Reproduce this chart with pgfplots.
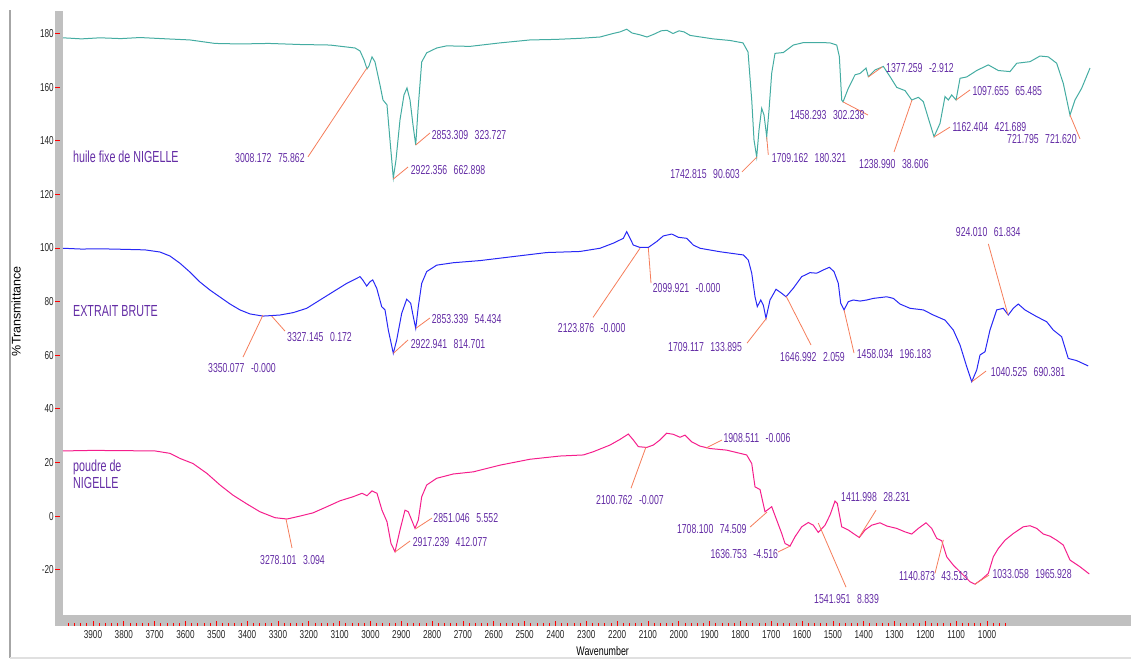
\documentclass[border=0pt]{standalone}
\usepackage{pgfplots}
\pgfplotsset{compat=1.18}
\usepackage{fontspec}
\setmainfont{Liberation Sans}
\newfontfamily\tickf{Liberation Sans}[FakeStretch=0.71]
\newfontfamily\annf{Liberation Sans}[FakeStretch=0.67]
\definecolor{teal1}{RGB}{68,172,162}
\definecolor{blue1}{RGB}{40,40,245}
\definecolor{pink1}{RGB}{245,30,140}
\definecolor{annc}{RGB}{100,45,165}
\definecolor{leadc}{RGB}{245,125,90}
\definecolor{barg}{RGB}{192,192,192}
\newcommand{\ann}[2]{#1\hspace{6.5pt}#2}
\tikzset{
  annot/.style={font=\annf\fontsize{13}{13}\selectfont, text=annc, inner sep=0pt, anchor=west},
  lead/.style={draw=leadc, line width=0.8pt},
  serlab/.style={font=\annf\fontsize{16}{17}\selectfont, text=annc, inner sep=0pt, anchor=west, align=left},
}
\begin{document}
\begin{tikzpicture}
\useasboundingbox (-55pt,-35pt) rectangle (1076pt,626pt);
\begin{axis}[
  at={(0pt,0pt)}, anchor=south west,
  scale only axis, width=1076pt, height=615pt,
  x dir=reverse, xmin=533, xmax=4023.3, ymin=-41, ymax=188.4,
  axis line style={draw=none},
  axis on top,
  tick align=inside, tick pos=left,
  major tick length=5pt, minor tick length=3pt,
  tick style={red, line width=0.8pt},
  xtick={1000,1100,...,3900},
  xticklabels={1000,1100,1200,1300,1400,1500,1600,1700,1800,1900,2000,2100,2200,2300,2400,2500,2600,2700,2800,2900,3000,3100,3200,3300,3400,3500,3600,3700,3800,3900},
  minor xtick={940,960,...,3980},
  ytick={-20,0,...,180},
  yticklabels={-20,0,20,40,60,80,100,120,140,160,180},
  xticklabel style={font=\tickf\fontsize{11.5}{12}\selectfont, text=black!85, inner sep=0pt, anchor=north, yshift=-4pt},
  yticklabel style={font=\tickf\fontsize{11.5}{12}\selectfont, text=black!85, inner sep=0pt, anchor=east, xshift=-1pt},
  xlabel={Wavenumber},
  xlabel style={font=\tickf\fontsize{12.5}{13}\selectfont, at={(axis description cs:0.509,-0.0407)}, anchor=center, inner sep=0pt},
  ylabel={\%Transmittance},
  ylabel style={font=\fontsize{12.5}{13}\selectfont, at={(axis description cs:-0.0362,0.512)}, rotate=0, anchor=center, inner sep=0pt},
]
% gray frame bars
\fill[barg] (axis cs:4023.3,-41) rectangle (axis cs:3997.3,188.4);
\fill[barg] (axis cs:4023.3,-41) rectangle (axis cs:533,-36.9);

% huile fixe de NIGELLE
\addplot[teal1, line width=1pt] coordinates {
(3997.3,178.4)(3937,178.0)(3877.3,178.4)(3810,178.1)(3747.6,178.5)(3660,178.0)(3585.4,177.6)(3504.3,176.3)(3423.2,176.1)(3330,176.3)(3228.6,175.9)(3131.3,175.7)(3050.2,174.6)(3033.9,173.5)(3021,170.2)(3011.2,166.8)(3004.8,167.9)(2995,171.3)(2985.3,169.4)(2969.1,160.8)(2959.3,155.2)(2946.4,153.4)(2936.7,140.3)(2925.9,126.1)(2917.2,132.8)(2904.2,147.8)(2891.2,157.1)(2881.5,159.7)(2871.7,155.2)(2862,145.9)(2853.2,138.4)(2845.8,151.5)(2833.8,169.4)(2817.6,172.8)(2785.1,174.6)(2752.7,175.4)(2677.1,175.2)(2579.8,176.5)(2482.5,177.6)(2400,177.8)(2320.3,178.2)(2255.4,178.7)(2213.2,180.0)(2190.6,180.6)(2168.8,181.6)(2151.6,180.2)(2125.7,179.5)(2103,178.7)(2077,179.9)(2057.6,181)(2038.1,181.2)(2018.6,180.0)(1999.1,181)(1982.9,180.6)(1963.4,179.3)(1940.8,178.9)(1888.9,178)(1833.7,177.4)(1791.6,176.5)(1775.3,173.1)(1763.3,155.2)(1755.9,140.3)(1747.2,133.9)(1739.7,144.0)(1731,152.1)(1723.4,149.6)(1714.7,141.5)(1707.2,151.5)(1698.5,165.2)(1687.8,172.6)(1660.8,172.9)(1628.4,175.7)(1596,176.6)(1531.1,176.6)(1509.3,176.5)(1487.6,175.7)(1479.1,171.4)(1471.4,155.2)(1467.1,154.5)(1449.9,159.6)(1428.2,164.6)(1412,165.1)(1392.5,167.1)(1385,163.9)(1363.3,166.4)(1336.3,167.7)(1314.6,163.9)(1292.9,159.9)(1266,158.7)(1244.3,155.2)(1222.9,156.2)(1206.7,154.6)(1190.5,148.4)(1172,141.5)(1152.5,146.5)(1136.3,156.5)(1125.6,155.2)(1114.6,157.1)(1100.6,155.2)(1087.6,163.3)(1065.9,163.8)(1033.5,166.2)(995.9,168.3)(963.5,166.2)(925.5,165.8)(903.8,168.9)(860.6,169.5)(828.3,171.6)(801.3,171.3)(774.1,168.9)(752.7,161.4)(731,149.6)(714.7,155.2)(693,159.6)(666.1,167.1)
};

% EXTRAIT BRUTE
\addplot[blue1, line width=1pt] coordinates {
(3997.3,99.9)(3937,99.6)(3877.3,99.7)(3800,99.5)(3731.3,99.3)(3682.7,98.5)(3650.3,97)(3617.8,94.3)(3585.4,91)(3553,87.3)(3520.5,84.3)(3488.1,81.7)(3455.6,79.1)(3423.2,76.9)(3390.8,75.4)(3348.6,74.6)(3319.4,74.8)(3293.4,75)(3250.3,75.9)(3206.8,77.5)(3163.7,80.6)(3120.5,83.7)(3077,86.8)(3033.9,89.3)(3025.2,88.1)(3012.2,85.8)(3001.5,87.4)(2992.7,88.1)(2979.7,85)(2963.5,78.1)(2952.8,76.9)(2942.1,69.4)(2925.9,60.7)(2914.9,65.7)(2898.7,75.6)(2882.5,80.9)(2869.5,79.4)(2861.1,74.4)(2853.2,70)(2844.8,78.1)(2833.8,86.8)(2817.6,91.2)(2785.1,93.6)(2731.3,94.5)(2644.7,95.3)(2536.7,96.8)(2428.3,98.3)(2320.3,98.7)(2255.4,99.9)(2212.2,101.8)(2179.8,103.6)(2168.8,106.1)(2147.4,101.1)(2125.7,100.2)(2098.7,100.2)(2071.5,102.4)(2050.1,104.5)(2022.9,105.2)(2001.4,104)(1974.2,103.6)(1952.8,101.1)(1931.1,99.9)(1866.2,98.6)(1790.6,97.4)(1774.4,95.5)(1763.3,90.6)(1752.6,81.8)(1745.2,78.1)(1734.1,80.6)(1725.7,78.7)(1717,73.8)(1704,80.6)(1684.5,84.6)(1666,83.1)(1652.1,81.8)(1628.4,85)(1601.2,89.3)(1574.2,90.8)(1552.5,90.6)(1531.1,91.8)(1511.6,92.8)(1496.4,91.2)(1482.4,86.8)(1474.7,79.4)(1463.9,76.9)(1449.9,80)(1433.7,80.6)(1412,80.2)(1390.3,80.6)(1368.8,81.2)(1325.4,81.8)(1303.9,81.2)(1282.3,79.1)(1249.8,77.5)(1206.7,76.9)(1174.3,75)(1136.3,73.1)(1109.4,69.4)(1087.6,63.8)(1065.9,55.7)(1049.7,50.1)(1033.5,54.5)(1022.8,60.1)(1006.6,61.3)(990.5,69.4)(968.7,76.9)(947.3,77.5)(931.1,75)(914.9,77.5)(898.7,79.1)(877,76.9)(839,74.4)(806.6,72.5)(785.2,69.4)(758,66.9)(736.6,58.8)(709.4,58)(671.7,56)
};

% poudre de NIGELLE
\addplot[pink1, line width=1pt] coordinates {
(3997.3,24.3)(3900,24.5)(3800,24.4)(3698.9,24.3)(3650.3,23.4)(3617.8,21.5)(3575.6,19.6)(3530.2,15.9)(3488.1,11.6)(3445.9,7.8)(3400.5,4.5)(3358.3,1.6)(3309.7,-0.6)(3270.7,-1.1)(3228.6,0)(3186.4,1.2)(3141,3.5)(3098.8,5.7)(3056.7,7.2)(3027.5,8.5)(3011.2,7.6)(2995,9.4)(2978.8,8.5)(2962.6,2.2)(2946.4,-2.1)(2933.4,-10.2)(2920.4,-13.3)(2904.2,-5.2)(2888,2.2)(2877.3,1.6)(2866.3,-1.5)(2855.5,-4.6)(2844.8,-1.5)(2833.8,7.2)(2817.6,11.6)(2785.1,14.1)(2731.3,15.7)(2666.4,16.5)(2579.8,19)(2482.5,21.2)(2385.2,22.4)(2309.6,22.8)(2277.2,24)(2223,26.5)(2190.6,28.6)(2163.6,30.6)(2147.4,28.4)(2131.2,25.9)(2103.9,25.6)(2082.5,26.5)(2060.8,28.4)(2039.1,30.9)(2017.6,30.5)(1995.9,29.4)(1979.7,30.2)(1958,27.7)(1931.1,26.1)(1898.6,25.2)(1844.5,24.6)(1779.6,22.8)(1763.3,19.6)(1752.6,10.9)(1736.4,9.9)(1720.2,1.6)(1698.5,3.5)(1682.3,-1.5)(1666,-6.5)(1655.3,-10.2)(1639.1,-11.2)(1622.9,-7.7)(1601.2,-4)(1579.8,-2.4)(1563.6,-3.4)(1547.4,-6.1)(1525.6,-3.4)(1509.3,0.4)(1493.2,5.6)(1485.7,4.7)(1471.4,-4)(1449.9,-5.2)(1433.7,-6.5)(1414.3,-8)(1395.8,-5.2)(1374.1,-3.4)(1347.2,-2.5)(1325.4,-3.7)(1292.9,-4.6)(1266,-5.9)(1244.3,-6.7)(1222.9,-4.6)(1197.9,-2.5)(1179.5,-4.6)(1163.2,-8.3)(1147,-9.2)(1130.8,-15.2)(1109.4,-18.3)(1082.2,-21.4)(1055.2,-24.5)(1039.1,-25.4)(1017.4,-23.6)(995.9,-21.4)(979.7,-15.2)(963.5,-12.1)(941.7,-9)(914.9,-6.5)(882.5,-4)(860.6,-3.6)(838.9,-4.6)(817.5,-6.7)(795.7,-7.5)(774.1,-9)(752.7,-10.8)(731,-16.4)(698.6,-18.9)(668.3,-21.6)
};

% series labels
\node[serlab] at (axis cs:3964.9,134.0) {huile fixe de NIGELLE};
\node[serlab] at (axis cs:3964.9,76.5) {EXTRAIT BRUTE};
\node[serlab] at (axis cs:3964.9,15.5) {poudre de\\NIGELLE};

% leader lines
\draw[lead] (axis cs:3202.6,134.0) -- (axis cs:3011.2,167.2);
\draw[lead] (axis cs:2853.2,138.4) -- (axis cs:2806.9,142.9);
\draw[lead] (axis cs:2925.9,125.7) -- (axis cs:2878.2,130.2);
\draw[lead] (axis cs:1794.8,128.4) -- (axis cs:1746.1,134.0);
\draw[lead] (axis cs:1714.7,141.4) -- (axis cs:1709.5,134.7);
\draw[lead] (axis cs:1467.2,154.5) -- (axis cs:1386.1,149.6);
\draw[lead] (axis cs:1385,163.8) -- (axis cs:1340.7,167.5);
\draw[lead] (axis cs:1301.7,135.8) -- (axis cs:1243.4,155.2);
\draw[lead] (axis cs:1172,141.4) -- (axis cs:1120.1,145.1);
\draw[lead] (axis cs:1100.6,155.2) -- (axis cs:1055.2,158.96);
\draw[lead] (axis cs:731,149.6) -- (axis cs:698.4,140.7);
\draw[lead] (axis cs:3413.5,59.3) -- (axis cs:3348.6,75.0);
\draw[lead] (axis cs:3320.4,74.6) -- (axis cs:3277.2,69.0);
\draw[lead] (axis cs:2853.2,70.0) -- (axis cs:2806.9,73.9);
\draw[lead] (axis cs:2925.9,60.7) -- (axis cs:2878.2,65.7);
\draw[lead] (axis cs:2278.1,74.1) -- (axis cs:2125.7,99.9);
\draw[lead] (axis cs:2098.7,100.0) -- (axis cs:2090,86.9);
\draw[lead] (axis cs:1778.6,64.5) -- (axis cs:1714.7,73.9);
\draw[lead] (axis cs:1652.1,82.1) -- (axis cs:1571,63.8);
\draw[lead] (axis cs:1463.9,76.9) -- (axis cs:1431.5,60.8);
\draw[lead] (axis cs:995.8,101.5) -- (axis cs:932,75.0);
\draw[lead] (axis cs:1049.7,50.1) -- (axis cs:1003.3,54.1);
\draw[lead] (axis cs:3274,-1.1) -- (axis cs:3254.5,-11.9);
\draw[lead] (axis cs:2853.2,-4.7) -- (axis cs:2800.4,-0.75);
\draw[lead] (axis cs:2920.4,-13.4) -- (axis cs:2871.7,-9.3);
\draw[lead] (axis cs:2154.9,10.4) -- (axis cs:2106.2,25.8);
\draw[lead] (axis cs:1911.6,25.4) -- (axis cs:1859.7,28.4);
\draw[lead] (axis cs:1768.8,-4.1) -- (axis cs:1713.7,1.5);
\draw[lead] (axis cs:1678,-13.4) -- (axis cs:1639.1,-11.2);
\draw[lead] (axis cs:1547.4,-2.6) -- (axis cs:1457.4,-26.5);
\draw[lead] (axis cs:1414.3,-7.8) -- (axis cs:1360.1,2.2);
\draw[lead] (axis cs:1168.7,-21.3) -- (axis cs:1141.8,-8.9);
\draw[lead] (axis cs:1039.1,-25.4) -- (axis cs:993.6,-22.0);

% peak annotations
\node[annot] at (axis cs:3439.4,133.6) {\ann{3008.172}{75.862}};
\node[annot] at (axis cs:2801.4,142.2) {\ann{2853.309}{323.727}};
\node[annot] at (axis cs:2869.5,129.1) {\ann{2922.356}{662.898}};
\node[annot, anchor=east] at (axis cs:1801.3,127.5) {\ann{1742.815}{90.603}};
\node[annot] at (axis cs:1698.5,133.5) {\ann{1709.162}{180.321}};
\node[annot] at (axis cs:1639.1,149.6) {\ann{1458.293}{302.238}};
\node[annot] at (axis cs:1327.7,167.3) {\ann{1377.259}{-2.912}};
\node[annot] at (axis cs:1415.3,131.3) {\ann{1238.990}{38.606}};
\node[annot] at (axis cs:1112.6,145.3) {\ann{1162.404}{421.689}};
\node[annot] at (axis cs:1047.7,158.6) {\ann{1097.655}{65.485}};
\node[annot] at (axis cs:935.2,140.6) {\ann{721.795}{721.620}};
\node[annot] at (axis cs:3527,55.1) {\ann{3350.077}{-0.000}};
\node[annot] at (axis cs:3270.7,66.9) {\ann{3327.145}{0.172}};
\node[annot] at (axis cs:2801.4,73.4) {\ann{2853.339}{54.434}};
\node[annot] at (axis cs:2869.5,64.1) {\ann{2922.941}{814.701}};
\node[annot] at (axis cs:2392.6,70.0) {\ann{2123.876}{-0.000}};
\node[annot] at (axis cs:2084.5,85.0) {\ann{2099.921}{-0.000}};
\node[annot] at (axis cs:2034.8,63.2) {\ann{1709.117}{133.895}};
\node[annot] at (axis cs:1671.5,59.4) {\ann{1646.992}{2.059}};
\node[annot] at (axis cs:1422.8,60.4) {\ann{1458.034}{196.183}};
\node[annot] at (axis cs:1101.6,105.9) {\ann{924.010}{61.834}};
\node[annot] at (axis cs:988.1,53.9) {\ann{1040.525}{690.381}};
\node[annot] at (axis cs:3358.3,-16.4) {\ann{3278.101}{3.094}};
\node[annot] at (axis cs:2796.2,-0.85) {\ann{2851.046}{5.552}};
\node[annot] at (axis cs:2863,-9.8) {\ann{2917.239}{412.077}};
\node[annot] at (axis cs:2268.4,6.0) {\ann{2100.762}{-0.007}};
\node[annot] at (axis cs:1855.5,29.0) {\ann{1908.511}{-0.006}};
\node[annot, anchor=east] at (axis cs:1779.6,-4.96) {\ann{1708.100}{74.509}};
\node[annot, anchor=east] at (axis cs:1677.1,-14.3) {\ann{1636.753}{-4.516}};
\node[annot] at (axis cs:1561.2,-31.1) {\ann{1541.951}{8.839}};
\node[annot] at (axis cs:1473.7,7.0) {\ann{1411.998}{28.231}};
\node[annot] at (axis cs:1285.5,-22.4) {\ann{1140.873}{43.513}};
\node[annot] at (axis cs:982.9,-21.75) {\ann{1033.058}{1965.928}};
\end{axis}
% window frame
\draw[black!35, line width=2pt] (-45pt,-32pt) -- (-45pt,616pt);
\draw[black!12, line width=1.5pt] (-45pt,-32pt) -- (1076pt,-32pt);
\end{tikzpicture}
\end{document}
